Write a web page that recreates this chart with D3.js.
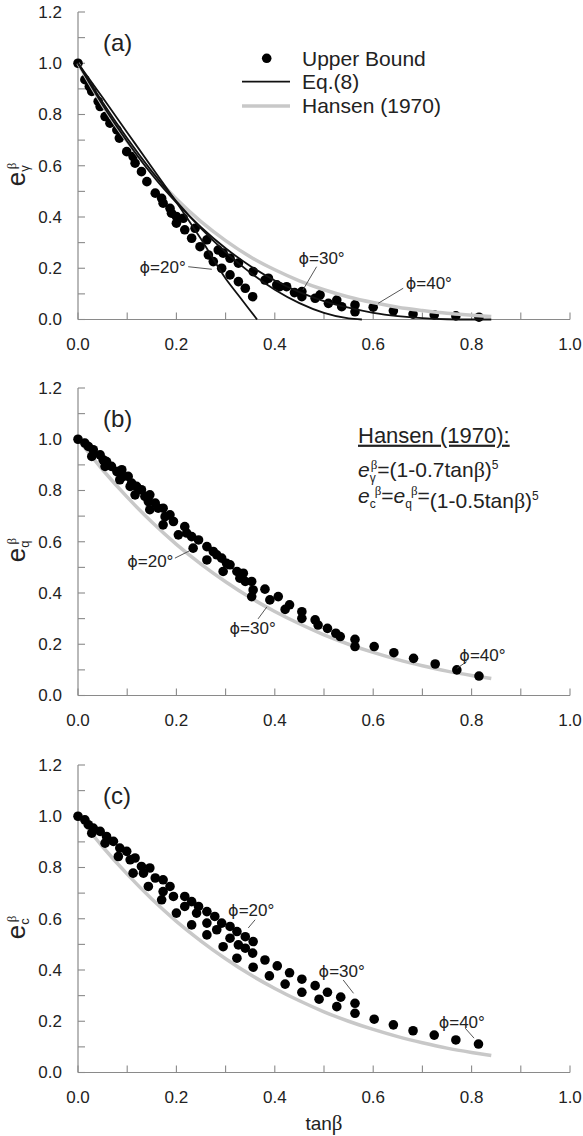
<!DOCTYPE html>
<html>
<head>
<meta charset="utf-8">
<script src="https://cdn.jsdelivr.net/npm/d3@7"></script>
<style>
  body { margin: 0; background: #fff; }
  text { font-family: "Liberation Sans", Arial, sans-serif; fill: #222; }
</style>
</head>
<body>
<svg id="chart" width="583" height="1136"></svg>
<script>
'use strict';

// ---- data (tanβ, e) ----
var xTicks = [0, 0.1, 0.2, 0.3, 0.4, 0.5, 0.6, 0.7, 0.8, 0.9, 1.0];
var xTickLabels = [0, 0.2, 0.4, 0.6, 0.8, 1.0];
var yTicks = [0, 0.1, 0.2, 0.3, 0.4, 0.5, 0.6, 0.7, 0.8, 0.9, 1.0, 1.1, 1.2];
var yTickLabels = [0, 0.2, 0.4, 0.6, 0.8, 1.0, 1.2];

var upperA = [[0,1.0],[0.014,0.936],[0.023,0.909],[0.028,0.89],[0.041,0.851],[0.045,0.831],[0.055,0.792],[0.065,0.766],[0.079,0.740],[0.084,0.708],[0.099,0.655],[0.112,0.636],[0.116,0.610],[0.129,0.577],[0.140,0.538],[0.157,0.493],[0.170,0.473],[0.173,0.454],[0.187,0.434],[0.190,0.415],[0.200,0.402],[0.200,0.376],[0.214,0.395],[0.217,0.350],[0.231,0.317],[0.238,0.356],[0.248,0.284],[0.262,0.311],[0.265,0.252],[0.275,0.226],[0.285,0.271],[0.292,0.200],[0.295,0.259],[0.309,0.239],[0.309,0.174],[0.326,0.220],[0.326,0.148],[0.340,0.122],[0.355,0.089],[0.356,0.187],[0.380,0.154],[0.387,0.161],[0.404,0.135],[0.410,0.128],[0.424,0.128],[0.440,0.105],[0.455,0.109],[0.455,0.089],[0.482,0.083],[0.492,0.096],[0.509,0.063],[0.526,0.076],[0.536,0.050],[0.563,0.057],[0.563,0.030],[0.600,0.048],[0.641,0.034],[0.681,0.021],[0.724,0.018],[0.768,0.014],[0.815,0.009]];

var upperB = [[0,1.0],[0.014,0.985],[0.021,0.972],[0.031,0.959],[0.028,0.933],[0.045,0.939],[0.051,0.920],[0.058,0.913],[0.055,0.894],[0.068,0.894],[0.079,0.874],[0.089,0.881],[0.085,0.842],[0.092,0.855],[0.102,0.855],[0.109,0.829],[0.106,0.816],[0.119,0.816],[0.129,0.803],[0.116,0.783],[0.136,0.777],[0.146,0.783],[0.143,0.757],[0.146,0.725],[0.157,0.751],[0.163,0.731],[0.173,0.731],[0.177,0.698],[0.173,0.666],[0.187,0.705],[0.194,0.679],[0.217,0.659],[0.204,0.627],[0.221,0.634],[0.231,0.620],[0.234,0.575],[0.245,0.607],[0.262,0.581],[0.262,0.529],[0.275,0.562],[0.282,0.549],[0.292,0.536],[0.295,0.484],[0.302,0.516],[0.309,0.510],[0.323,0.484],[0.336,0.477],[0.329,0.458],[0.340,0.445],[0.353,0.445],[0.356,0.412],[0.353,0.386],[0.380,0.415],[0.390,0.373],[0.407,0.386],[0.421,0.336],[0.430,0.354],[0.455,0.327],[0.455,0.301],[0.482,0.295],[0.488,0.275],[0.507,0.262],[0.524,0.243],[0.533,0.230],[0.563,0.219],[0.563,0.191],[0.602,0.191],[0.642,0.167],[0.682,0.145],[0.726,0.123],[0.770,0.100],[0.815,0.076]];

var upperC = [[0,1.0],[0.014,0.986],[0.021,0.967],[0.031,0.954],[0.028,0.934],[0.045,0.941],[0.058,0.921],[0.055,0.895],[0.072,0.902],[0.085,0.876],[0.082,0.843],[0.099,0.863],[0.106,0.830],[0.116,0.837],[0.112,0.778],[0.129,0.804],[0.133,0.778],[0.146,0.798],[0.143,0.726],[0.157,0.759],[0.173,0.752],[0.173,0.706],[0.170,0.674],[0.187,0.726],[0.194,0.687],[0.200,0.622],[0.217,0.687],[0.217,0.648],[0.231,0.667],[0.231,0.576],[0.245,0.648],[0.241,0.622],[0.262,0.628],[0.262,0.583],[0.262,0.537],[0.278,0.609],[0.282,0.557],[0.292,0.583],[0.295,0.491],[0.309,0.570],[0.309,0.524],[0.323,0.550],[0.326,0.498],[0.323,0.446],[0.340,0.530],[0.340,0.485],[0.356,0.511],[0.355,0.466],[0.356,0.411],[0.380,0.439],[0.389,0.377],[0.405,0.416],[0.430,0.389],[0.421,0.345],[0.455,0.364],[0.455,0.313],[0.482,0.339],[0.490,0.286],[0.507,0.313],[0.526,0.257],[0.534,0.294],[0.563,0.270],[0.563,0.231],[0.602,0.208],[0.641,0.186],[0.681,0.163],[0.724,0.146],[0.768,0.127],[0.814,0.111]];

// Eq.(8) curves, panel (a)
var eq8Phi20 = [[0,1],[0.05,0.866],[0.1,0.730],[0.15,0.594],[0.2,0.458],[0.25,0.314],[0.3,0.160],[0.33,0.085],[0.364,0]];
var eq8Phi30 = [[0,1],[0.05,0.848],[0.1,0.707],[0.15,0.578],[0.2,0.461],[0.25,0.356],[0.3,0.263],[0.35,0.183],[0.4,0.116],[0.45,0.064],[0.5,0.026],[0.55,0.004],[0.577,0]];
var eq8Phi40 = [[0,1],[0.05,0.838],[0.1,0.695],[0.15,0.566],[0.2,0.456],[0.25,0.360],[0.3,0.278],[0.35,0.209],[0.4,0.152],[0.45,0.107],[0.5,0.072],[0.55,0.046],[0.6,0.026],[0.65,0.013],[0.7,0.005],[0.75,0.001],[0.8,0],[0.84,0]];

// Hansen (1970) curves
var hansenGamma = [[0,1],[0.05,0.837],[0.1,0.696],[0.15,0.574],[0.2,0.470],[0.25,0.382],[0.3,0.308],[0.35,0.245],[0.4,0.194],[0.45,0.151],[0.5,0.116],[0.55,0.088],[0.6,0.066],[0.65,0.048],[0.7,0.035],[0.75,0.024],[0.8,0.017],[0.84,0.012]];
var hansenQC = [[0,1],[0.05,0.881],[0.1,0.774],[0.15,0.677],[0.2,0.590],[0.25,0.513],[0.3,0.444],[0.35,0.382],[0.4,0.328],[0.45,0.280],[0.5,0.237],[0.55,0.200],[0.6,0.168],[0.65,0.140],[0.7,0.116],[0.75,0.095],[0.8,0.078],[0.84,0.066]];

// ---- layout ----
var svg = d3.select('#chart');
var X0 = 78, X1 = 570, PH = 307.5;
var GRAY = '#c8c8c8', AXIS = '#8a8a8a';
var serif = '"Liberation Serif", "Times New Roman", serif';
var phiFont = '"DejaVu Sans", sans-serif';

var x = d3.scaleLinear().domain([0, 1]).range([X0, X1]);

function drawPanel(cfg) {
  var y = d3.scaleLinear().domain([0, 1.2]).range([cfg.bottom, cfg.bottom - PH]);
  var g = svg.append('g');
  var line = d3.line().x(d => x(d[0])).y(d => y(d[1])).curve(d3.curveMonotoneX);

  // axes
  g.append('line').attr('x1', X0).attr('x2', X1).attr('y1', y(0)).attr('y2', y(0))
    .attr('stroke', AXIS).attr('stroke-width', 1.2);
  g.append('line').attr('x1', X0).attr('x2', X0).attr('y1', y(0)).attr('y2', y(1.2))
    .attr('stroke', AXIS).attr('stroke-width', 1.2);
  g.selectAll('.xt').data(xTicks).enter().append('line')
    .attr('x1', d => x(d)).attr('x2', d => x(d)).attr('y1', y(0)).attr('y2', y(0) - 7)
    .attr('stroke', AXIS).attr('stroke-width', 1.1);
  g.selectAll('.yt').data(yTicks).enter().append('line')
    .attr('x1', X0).attr('x2', X0 + 7).attr('y1', d => y(d)).attr('y2', d => y(d))
    .attr('stroke', AXIS).attr('stroke-width', 1.1);
  g.selectAll('.xl').data(xTickLabels).enter().append('text')
    .attr('x', d => x(d)).attr('y', y(0) + 25).attr('dy', '0.35em')
    .attr('text-anchor', 'middle').style('font-size', '17px')
    .text(d => d.toFixed(1));
  g.selectAll('.yl').data(yTickLabels).enter().append('text')
    .attr('x', 62).attr('y', d => y(d)).attr('dy', '0.35em')
    .attr('text-anchor', 'end').style('font-size', '17px')
    .text(d => d.toFixed(1));

  // y axis label e_sub^β
  var yl = g.append('text')
    .attr('transform', 'translate(25,' + y(cfg.labelAt) + ') rotate(-90)')
    .attr('text-anchor', 'start');
  yl.append('tspan').style('font-size', '26px').text('e');
  yl.append('tspan').style('font-size', '13px').attr('dy', 4).text(cfg.sub);
  yl.append('tspan').style('font-size', '13px').style('font-family', serif)
    .attr('dx', -4).attr('dy', -13).text('β');

  // panel tag
  g.append('text').attr('x', 103).attr('y', y(1.08)).attr('dy', '0.35em')
    .style('font-size', '24px').text(cfg.tag);

  function drawDots() {
    g.selectAll('.pt').data(cfg.points).enter().append('circle')
      .attr('cx', d => x(d[0])).attr('cy', d => y(d[1])).attr('r', 4.8)
      .attr('fill', '#000');
  }
  function drawHansen() {
    g.append('path').datum(cfg.hansen).attr('d', line)
      .attr('fill', 'none').attr('stroke', GRAY).attr('stroke-width', 3.5);
  }
  if (cfg.grayOnTop) { drawDots(); drawHansen(); } else { drawHansen(); drawDots(); }

  (cfg.eq8 || []).forEach(function (c) {
    g.append('path').datum(c).attr('d', line)
      .attr('fill', 'none').attr('stroke', '#111').attr('stroke-width', 1.8);
  });

  // φ annotations
  cfg.notes.forEach(function (n) {
    g.append('line').attr('x1', x(n.l[0])).attr('y1', y(n.l[1]))
      .attr('x2', x(n.l[2])).attr('y2', y(n.l[3]))
      .attr('stroke', '#444').attr('stroke-width', 0.9);
    var t = g.append('text').attr('x', x(n.t[0])).attr('y', y(n.t[1])).attr('dy', '0.35em')
      .attr('text-anchor', 'middle').style('font-size', '17px');
    t.append('tspan').style('font-family', phiFont).style('font-size', '16px').text('ϕ');
    t.append('tspan').text(n.s);
  });
  return { g: g, y: y };
}

var pa = drawPanel({
  bottom: 319.5, tag: '(a)', sub: 'γ', labelAt: 0.52, points: upperA, hansen: hansenGamma,
  grayOnTop: true, eq8: [eq8Phi20, eq8Phi30, eq8Phi40],
  notes: [
    { s: '=20°', t: [0.172, 0.205], l: [0.224, 0.206, 0.272, 0.196] },
    { s: '=30°', t: [0.495, 0.240], l: [0.485, 0.206, 0.457, 0.115] },
    { s: '=40°', t: [0.713, 0.143], l: [0.661, 0.122, 0.610, 0.063] }
  ]
});

var pb = drawPanel({
  bottom: 695.5, tag: '(b)', sub: 'q', labelAt: 0.52, points: upperB, hansen: hansenQC,
  grayOnTop: false,
  notes: [
    { s: '=20°', t: [0.147, 0.523], l: [0.197, 0.536, 0.226, 0.564] },
    { s: '=30°', t: [0.355, 0.262], l: [0.366, 0.299, 0.384, 0.346] },
    { s: '=40°', t: [0.822, 0.158], l: [0.790, 0.132, 0.770, 0.106] }
  ]
});

var pc = drawPanel({
  bottom: 1072.5, tag: '(c)', sub: 'c', labelAt: 0.52, points: upperC, hansen: hansenQC,
  grayOnTop: false,
  notes: [
    { s: '=20°', t: [0.352, 0.635], l: [0.360, 0.596, 0.346, 0.564] },
    { s: '=30°', t: [0.536, 0.394], l: [0.539, 0.361, 0.560, 0.309] },
    { s: '=40°', t: [0.780, 0.198], l: [0.787, 0.173, 0.805, 0.134] }
  ]
});

// legend, panel (a)
var lg = pa.g.append('g');
lg.append('circle').attr('cx', 266.7).attr('cy', 58.3).attr('r', 4.8).attr('fill', '#000');
lg.append('line').attr('x1', 242).attr('x2', 290).attr('y1', 81.7).attr('y2', 81.7)
  .attr('stroke', '#111').attr('stroke-width', 1.8);
lg.append('line').attr('x1', 242).attr('x2', 290).attr('y1', 106).attr('y2', 106)
  .attr('stroke', GRAY).attr('stroke-width', 3.5);
[['Upper Bound', 58.3], ['Eq.(8)', 81.7], ['Hansen (1970)', 106]].forEach(function (r) {
  lg.append('text').attr('x', 302).attr('y', r[1]).attr('dy', '0.35em')
    .style('font-size', '21px').text(r[0]);
});

// Hansen formulas, panel (b)
var fb = pb.g.append('g');
fb.append('text').attr('x', 358).attr('y', 435).attr('dy', '0.35em')
  .style('font-size', '22px').style('text-decoration', 'underline').text('Hansen (1970):');

var f1 = fb.append('text').attr('x', 358).attr('y', 477).style('font-size', '21px');
f1.append('tspan').style('font-style', 'italic').text('e');
f1.append('tspan').style('font-size', '12px').attr('dy', 5).text('γ');
f1.append('tspan').style('font-size', '13px').style('font-family', serif).attr('dx', -5).attr('dy', -13).text('β');
f1.append('tspan').attr('dy', 8).text('=(1-0.7tan');
f1.append('tspan').style('font-family', serif).style('font-size', '22px').text('β');
f1.append('tspan').text(')');
f1.append('tspan').style('font-size', '12px').attr('dy', -8).text('5');

var f2 = fb.append('text').attr('x', 358).attr('y', 503).style('font-size', '21px');
f2.append('tspan').style('font-style', 'italic').text('e');
f2.append('tspan').style('font-size', '12px').attr('dy', 5).text('c');
f2.append('tspan').style('font-size', '13px').style('font-family', serif).attr('dx', -1).attr('dy', -13).text('β');
f2.append('tspan').attr('dy', 8).text('=');
f2.append('tspan').style('font-style', 'italic').text('e');
f2.append('tspan').style('font-size', '12px').attr('dy', 5).text('q');
f2.append('tspan').style('font-size', '13px').style('font-family', serif).attr('dx', -1).attr('dy', -13).text('β');
f2.append('tspan').attr('dy', 8).text('=');
f2.append('tspan').attr('dy', 5).text('(1-0.5tan');
f2.append('tspan').style('font-family', serif).style('font-size', '22px').text('β');
f2.append('tspan').text(')');
f2.append('tspan').style('font-size', '12px').attr('dy', -8).text('5');

// x axis title
var xt = svg.append('text').attr('x', x(0.5)).attr('y', 1123).attr('dy', '0.35em')
  .attr('text-anchor', 'middle').style('font-size', '19px');
xt.append('tspan').text('tan');
xt.append('tspan').style('font-family', serif).style('font-size', '21px').text('β');
</script>
</body>
</html>
